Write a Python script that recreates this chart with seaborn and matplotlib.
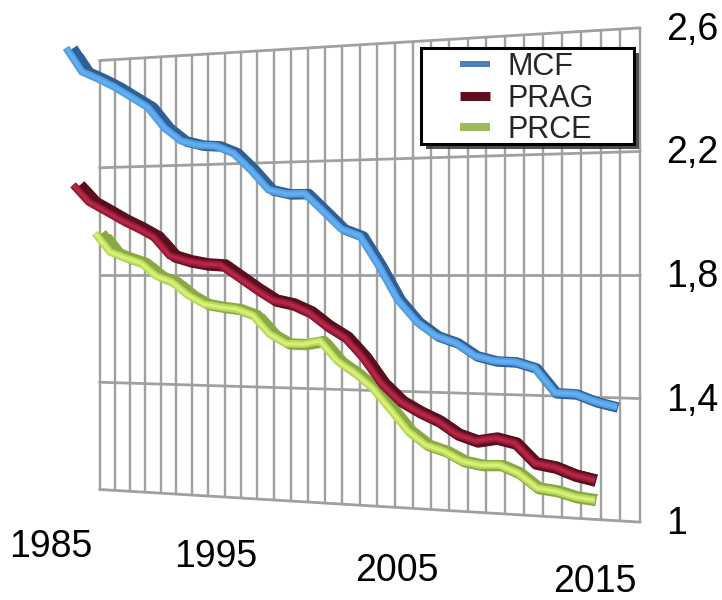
import matplotlib
matplotlib.use("Agg")
import matplotlib.pyplot as plt
from matplotlib.lines import Line2D
from matplotlib.patches import Rectangle
from matplotlib.legend_handler import HandlerLine2D
import seaborn as sns
import pandas as pd
import numpy as np

sns.set_theme(style="white")
plt.rcParams['font.family'] = ['Liberation Sans', 'DejaVu Sans']

years_mcf = list(range(1985, 2016))
years_other = list(range(1985, 2015))

mcf = [2.613, 2.524, 2.496, 2.464, 2.426, 2.388, 2.313, 2.265, 2.249, 2.244, 2.218, 2.158, 2.089, 2.074, 2.074, 2.014,
       1.953, 1.929, 1.830, 1.718, 1.646, 1.601, 1.580, 1.539, 1.524, 1.522, 1.504, 1.427, 1.425, 1.402, 1.388]
prag = [2.129, 2.065, 2.032, 1.998, 1.969, 1.936, 1.868, 1.850, 1.839, 1.835, 1.793, 1.751, 1.713, 1.700, 1.673, 1.626,
        1.589, 1.522, 1.436, 1.377, 1.343, 1.315, 1.274, 1.254, 1.266, 1.252, 1.190, 1.180, 1.157, 1.144]
prce = [1.956, 1.885, 1.863, 1.844, 1.796, 1.774, 1.727, 1.695, 1.685, 1.678, 1.657, 1.591, 1.558, 1.557, 1.569, 1.500,
        1.460, 1.410, 1.339, 1.266, 1.221, 1.203, 1.172, 1.162, 1.165, 1.141, 1.095, 1.088, 1.072, 1.066]

value_ticks = [1, 1.4, 1.8, 2.2, 2.6]
value_labels = ['1', '1,4', '1,8', '2,2', '2,6']
year_labels = ['1985', '1995', '2005', '2015']


# the chart is a tilted 3D wall, so values go through a small perspective scale
def wall_x(slot):
    return 99.5 + 15.0 * slot + 0.0788 * slot ** 2


def wall_y(slot, value):
    height = 429 + 0.1208 * (wall_x(slot) - 100)
    return 275 - (value - 1.8) * height / 1.6


def project(years, values, left, stretch, depth):
    slot = np.asarray(years) - 1985 + 0.5
    x = left + stretch * (wall_x(slot) - wall_x(0.5))
    y = 275 + depth * (wall_y(slot, np.asarray(values)) - 275)
    return x, y


fig = plt.figure(figsize=(7.22, 6), dpi=100)
ax = fig.add_axes([0, 0, 1, 1])
ax.set_xlim(0, 722)
ax.set_ylim(600, 0)
ax.axis('off')

# wall grid
grid_color = '#A0A0A0'
slots = np.arange(0, 32)
for s in slots:
    ax.plot([wall_x(s), wall_x(s)], [wall_y(s, 1), wall_y(s, 2.6)], color=grid_color, lw=1.7, zorder=1)
for v in value_ticks:
    ax.plot([wall_x(0), wall_x(31)], [wall_y(0, v), wall_y(31, v)], color=grid_color, lw=2.0, zorder=1)

series = [
    ('PRCE', years_other, prce, 95, 0.9929, 1.00, '#8CA845', '#B9DA5C', '#D6F076', 8.2),
    ('PRAG', years_other, prag, 73, 1.0365, 1.02, '#5A0E1E', '#961B33', '#B4264A', 9.0),
    ('MCF', years_mcf, mcf, 66, 1.053, 1.04, '#2F5F95', '#549FE2', '#62AEF0', 7.6),
]
ribbon = 0.026
vanish_x = 720

z = 2
for name, yrs, vals, left, stretch, depth, dark, body, shine, dark_lw in series:
    x, y = project(yrs, vals, left, stretch, depth)
    dx = ribbon * (vanish_x - x)
    dy = ribbon * (275 - y)
    # ribbon depth face behind the front edge
    ax.fill(np.r_[x, (x + dx)[::-1]], np.r_[y, (y + dy)[::-1]], color=dark, lw=0, zorder=z)
    df = pd.DataFrame({'x': x + dx * 0.4, 'y': y + 0.5})
    sns.lineplot(data=df, x='x', y='y', ax=ax, color=dark, lw=dark_lw, sort=False, zorder=z + 0.1,
                 solid_capstyle='butt', solid_joinstyle='round')
    df = pd.DataFrame({'x': x, 'y': y})
    sns.lineplot(data=df, x='x', y='y', ax=ax, color=body, lw=5.4, sort=False, zorder=z + 0.2,
                 solid_capstyle='butt', solid_joinstyle='round')
    sns.lineplot(data=df, x='x', y='y', ax=ax, color=shine, lw=2.4, sort=False, zorder=z + 0.3,
                 solid_capstyle='butt', solid_joinstyle='round')
    z += 1

# legend box with its drop shadow
ax.add_patch(Rectangle((426, 53), 213, 96, facecolor='#303030', edgecolor='none', alpha=0.85, zorder=6))
ax.add_patch(Rectangle((421, 48), 213, 96, facecolor='white', edgecolor='black', lw=2.2, zorder=7))
handles = [
    Line2D([], [], color='#4A7EBB', lw=4.3, solid_capstyle='butt'),
    Line2D([], [], color='#5E0D1C', lw=6.5, solid_capstyle='butt'),
    Line2D([], [], color='#9BBB59', lw=5.8, solid_capstyle='butt'),
]
legend_size = 22
leg = ax.legend(handles, ['MCF', 'PRAG', 'PRCE'], loc='upper left', bbox_to_anchor=(421, 52),
                bbox_transform=ax.transData, frameon=False, fontsize=legend_size, borderpad=0,
                borderaxespad=0, labelspacing=0.05, handlelength=2.26, handletextpad=0.58,
                handler_map={h: HandlerLine2D(xpad=1.28) for h in handles})
leg.set_zorder(8)

# axis labels
text_size = 27
for v, lab in zip(value_ticks, value_labels):
    ax.text(666, wall_y(31, v) + 2, lab, fontsize=text_size, color='black', ha='left', va='center', zorder=9)
for lab_x, lab_y, lab in zip([51, 216, 397, 595], [547, 557, 571, 582], year_labels):
    ax.text(lab_x, lab_y, lab, fontsize=text_size, color='black', ha='center', va='center', zorder=9)

fig.savefig('out.png', dpi=100)
